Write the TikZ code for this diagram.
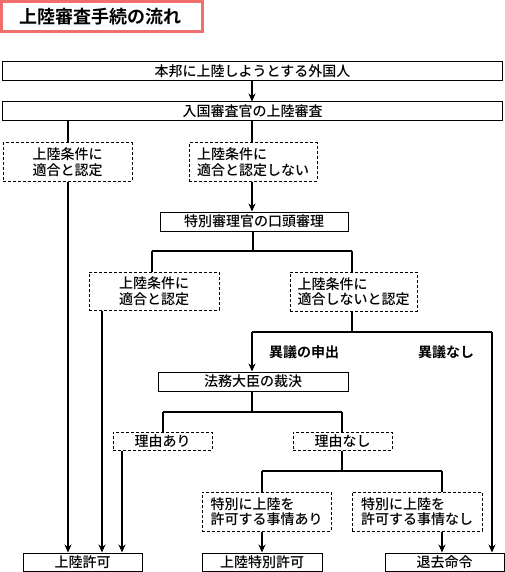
\documentclass[tikz,border=0pt]{standalone}
\usepackage{fontspec}
\setmainfont{Noto Sans CJK JP}[UprightFont={* Medium},BoldFont={* Bold}]
\usetikzlibrary{arrows.meta}
\definecolor{titlered}{RGB}{240,110,110}
\tikzset{
  box/.style={draw=black,line width=1pt,fill=white,inner sep=0pt,font=\fontsize{14}{15.5}\selectfont},
  dbox/.style={draw=black,line width=1pt,dash pattern=on 3pt off 2pt,fill=white,inner sep=0pt,align=left,font=\fontsize{14}{15.5}\selectfont},
  conn/.style={line width=2pt},
  arr/.style={line width=2pt,-{Stealth[length=8pt,width=7pt]}},
  lbl/.style={inner sep=0pt,font=\fontsize{14}{16}\selectfont\bfseries}
}
\begin{document}
\begin{tikzpicture}[x=1pt,y=-1pt]
\useasboundingbox (0,0) rectangle (505,572);
% title
\draw[titlered,line width=3pt] (1.5,1.5) rectangle (202.5,31.5);
\node[inner sep=0pt,font=\fontsize{18}{20}\selectfont\bfseries] (title) at (100,17) {上陸審査手続の流れ};
% boxes
\node[box,minimum width=500pt,minimum height=19pt] (b1) at (252.5,71.5) {本邦に上陸しようとする外国人};
\node[box,minimum width=500pt,minimum height=19pt] (b2) at (252.5,111.5) {入国審査官の上陸審査};
\node[dbox,minimum width=129pt,minimum height=38pt] (l1) at (67.5,162) {上陸条件に\\適合と認定};
\node[dbox,minimum width=128pt,minimum height=38pt] (r1) at (253,162) {上陸条件に\\適合と認定しない};
\node[box,minimum width=188pt,minimum height=19pt] (b3) at (254,221.5) {特別審理官の口頭審理};
\node[dbox,minimum width=130pt,minimum height=38pt] (l2) at (154,291) {上陸条件に\\適合と認定};
\node[dbox,minimum width=127pt,minimum height=39pt] (r2) at (353.5,291.5) {上陸条件に\\適合しないと認定};
\node[box,minimum width=190pt,minimum height=19pt] (b4) at (253,381.5) {法務大臣の裁決};
\node[dbox,minimum width=99pt,minimum height=18pt] (ya) at (162.5,441) {理由あり};
\node[dbox,minimum width=99pt,minimum height=18pt] (yn) at (342.5,441) {理由なし};
\node[dbox,minimum width=129pt,minimum height=39pt] (ja) at (266.5,511.5) {特別に上陸を\\許可する事情あり};
\node[dbox,minimum width=130pt,minimum height=39pt] (jn) at (417,511.5) {特別に上陸を\\許可する事情なし};
\node[box,minimum width=119pt,minimum height=18pt] (ok) at (82.5,562) {上陸許可};
\node[box,minimum width=120pt,minimum height=18pt] (sp) at (262,562) {上陸特別許可};
\node[box,minimum width=119pt,minimum height=18pt] (dep) at (444.5,562) {退去命令};
\node[lbl] (igi) at (304,352) {異議の申出};
\node[lbl] (nogi) at (446,352) {異議なし};
% helper coordinates
\coordinate (x68) at (68,0);
\coordinate (x102) at (102,0);
\coordinate (x122) at (122,0);
\coordinate (x152) at (152,0);
\coordinate (x252) at (252,0);
\coordinate (x262) at (262,0);
\coordinate (x342) at (342,0);
\coordinate (x352) at (352,0);
\coordinate (x442) at (442,0);
\coordinate (x492) at (492,0);
\coordinate (j1) at (253,251);
\coordinate (j2) at (352,332);
\coordinate (j3) at (252,412);
\coordinate (j4) at (342,471);
% connectors
\draw[arr] (b1.south -| x252) -- (b2.north -| x252);
\draw[conn] (b2.south -| x68) -- (l1.north -| x68);
\draw[conn] (b2.south -| x252) -- (r1.north -| x252);
\draw[arr] (l1.south -| x68) -- (ok.north -| x68);
\draw[arr] (r1.south -| x252) -- (b3.north -| x252);
\draw[conn] (b3.south -| j1) -- (j1);
\draw[conn] (j1 -| x152) -- (j1 -| x352);
\draw[conn] (j1 -| x152) -- (l2.north -| x152);
\draw[conn] (j1 -| x352) -- (r2.north -| x352);
\draw[arr] (l2.south -| x102) -- (ok.north -| x102);
\draw[conn] (r2.south -| x352) -- (j2);
\draw[conn] (j2 -| x252) -- (j2 -| x492);
\draw[arr] (j2 -| x252) -- (b4.north -| x252);
\draw[arr] (j2 -| x492) -- (dep.north -| x492);
\draw[conn] (b4.south -| x252) -- (j3);
\draw[conn] (j3 -| ya.north) -- (j3 -| x342);
\draw[conn] (j3 -| ya.north) -- (ya.north);
\draw[conn] (j3 -| x342) -- (yn.north -| x342);
\draw[arr] (ya.south -| x122) -- (ok.north -| x122);
\draw[conn] (yn.south -| x342) -- (j4);
\draw[conn] (j4 -| x262) -- (j4 -| x442);
\draw[conn] (j4 -| x262) -- (ja.north -| x262);
\draw[conn] (j4 -| x442) -- (jn.north -| x442);
\draw[arr] (ja.south -| x262) -- (sp.north -| x262);
\draw[arr] (jn.south -| x442) -- (dep.north -| x442);
\end{tikzpicture}
\end{document}
